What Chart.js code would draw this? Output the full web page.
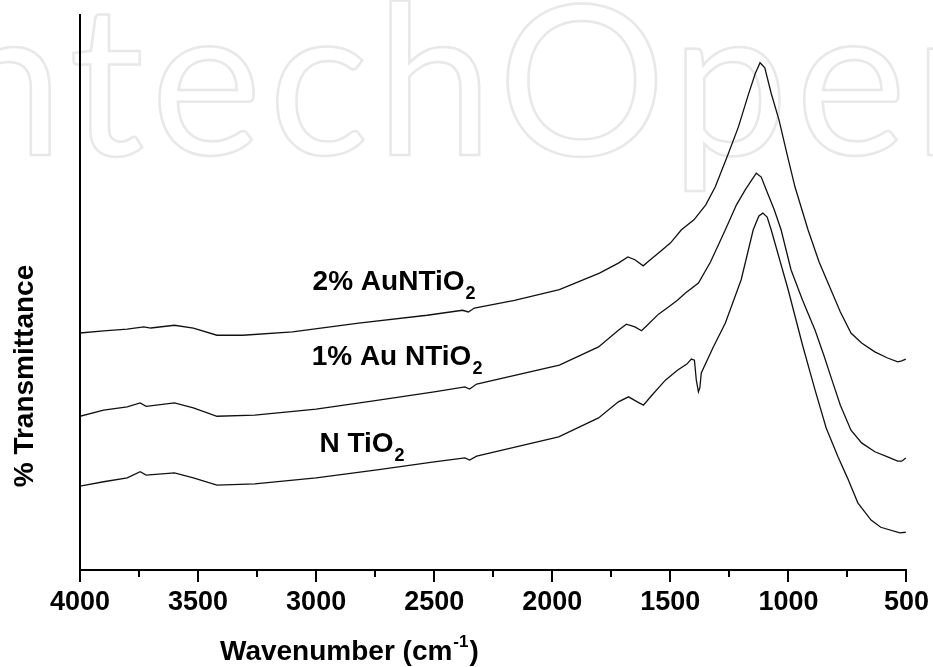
<!DOCTYPE html>
<html>
<head>
<meta charset="utf-8">
<title>FTIR N TiO2 / Au NTiO2</title>
<script src="https://cdn.jsdelivr.net/npm/chart.js@4.4.1/dist/chart.umd.min.js"></script>
<style>
  body { margin: 0; background: #fff; }
  canvas { display: block; }
</style>
</head>
<body>
<canvas id="grafico" width="933" height="667"></canvas>
<script>
// Ticks del eje X (numero de onda, cm-1)
const xTicks = [4000, 3500, 3000, 2500, 2000, 1500, 1000, 500];

// 2% AuNTiO2 (curva superior)
const wn2 = [4000, 3900, 3800, 3730, 3700, 3600, 3520, 3420, 3310, 3100, 2820, 2530, 2380, 2355, 2330, 2160, 1970, 1800, 1720, 1680, 1650, 1615, 1590, 1550, 1500, 1453, 1400, 1350, 1310, 1260, 1212, 1170, 1140, 1120, 1100, 1073, 1040, 1000, 972, 917, 870, 820, 780, 735, 690, 634, 580, 537, 520, 503];
const tr2 = [42.7, 43.1, 43.4, 43.8, 43.6, 44.1, 43.6, 42.3, 42.3, 42.9, 44.5, 45.9, 46.8, 46.5, 47.2, 48.6, 50.5, 53.5, 55.3, 56.4, 55.9, 54.8, 55.7, 57.1, 58.9, 61.3, 63.1, 65.8, 69.0, 74.4, 79.8, 85.6, 89.5, 91.4, 90.5, 85.9, 81.1, 73.9, 69.0, 61.3, 55.5, 50.5, 46.5, 42.7, 40.9, 39.3, 38.2, 37.5, 37.7, 38.0];

// 1% Au NTiO2 (curva del medio)
const wn1 = [4000, 3900, 3800, 3745, 3720, 3600, 3520, 3420, 3260, 3000, 2750, 2500, 2370, 2350, 2320, 1970, 1804, 1720, 1686, 1650, 1622, 1600, 1550, 1508, 1470, 1436, 1381, 1330, 1267, 1220, 1183, 1150, 1136, 1115, 1094, 1060, 1031, 989, 940, 887, 850, 820, 780, 735, 690, 634, 580, 537, 520, 503];
const tr1 = [27.7, 28.8, 29.4, 30.1, 29.5, 30.1, 29.2, 27.7, 27.9, 29.0, 30.5, 32.1, 33.0, 32.6, 33.5, 36.9, 40.2, 43.2, 44.3, 43.8, 43.1, 44.0, 46.1, 47.4, 48.6, 49.9, 51.7, 55.5, 61.3, 65.8, 68.5, 70.6, 71.5, 70.8, 68.5, 64.9, 61.3, 54.1, 48.6, 43.2, 38.7, 34.8, 29.7, 25.2, 22.9, 21.3, 20.4, 19.6, 19.6, 20.2];

// N TiO2 (curva inferior)
const wn0 = [4000, 3900, 3800, 3745, 3720, 3600, 3520, 3420, 3260, 3000, 2750, 2500, 2370, 2350, 2320, 1973, 1804, 1720, 1677, 1640, 1614, 1580, 1521, 1470, 1430, 1411, 1398, 1390, 1381, 1375, 1369, 1320, 1267, 1200, 1149, 1125, 1108, 1090, 1073, 1001, 940, 887, 840, 790, 750, 706, 650, 609, 528, 503];
const tr0 = [15.1, 15.9, 16.6, 17.7, 17.1, 17.5, 16.6, 15.3, 15.5, 16.6, 18.0, 19.5, 20.2, 19.8, 20.5, 24.0, 27.4, 30.3, 31.2, 30.3, 29.7, 31.4, 34.2, 36.0, 37.1, 38.0, 37.8, 34.2, 32.1, 32.8, 35.5, 40.0, 44.5, 52.3, 61.3, 63.8, 64.3, 63.6, 61.3, 50.5, 40.5, 32.4, 25.6, 20.4, 16.6, 12.1, 9.0, 7.7, 6.7, 6.8];

// Etiquetas de las curvas (texto, subindice, posicion en unidades de datos)
const etiquetas = [
    { texto: '2% AuNTiO', sub: '2', wn: 3015, t: 50.5 },
    { texto: '1% Au NTiO', sub: '2', wn: 3019, t: 36.9 },
    { texto: 'N TiO', sub: '2', wn: 2986, t: 21.3 }
];

const FUENTE = '"Liberation Sans", Arial, sans-serif';

function puntos(xs, ys) {
    let lista = [];
    for (let i = 0; i < xs.length; i++) {
        lista.push({ x: xs[i], y: ys[i] });
    }
    return lista;
}

function serie(nombre, xs, ys) {
    return {
        label: nombre,
        data: puntos(xs, ys),
        borderColor: '#111',
        borderWidth: 1.3,
        pointRadius: 0,
        tension: 0,
        fill: false
    };
}

// Marca de agua de fondo
const marcaAgua = {
    id: 'marcaAgua',
    beforeDraw(chart) {
        let ctx = chart.ctx;
        ctx.save();
        ctx.font = '400 210px Lato, sans-serif';
        ctx.letterSpacing = '7px';
        ctx.strokeStyle = '#e8e8e8';
        ctx.lineWidth = 2.5;
        ctx.textBaseline = 'alphabetic';
        ctx.strokeText('IntechOpen', -118, 155);
        ctx.restore();
    }
};

// Ticks menores, titulos de ejes y etiquetas de curvas
const extras = {
    id: 'extras',
    afterDraw(chart) {
        let ctx = chart.ctx;
        let x = chart.scales.x;
        let y = chart.scales.y;
        let abajo = chart.chartArea.bottom;
        ctx.save();
        ctx.strokeStyle = '#000';
        ctx.lineWidth = 2;
        for (let v = 3750; v > 500; v -= 500) {
            let px = Math.round(x.getPixelForValue(v));
            ctx.beginPath();
            ctx.moveTo(px, abajo);
            ctx.lineTo(px, abajo + 7);
            ctx.stroke();
        }

        ctx.fillStyle = '#000';
        ctx.textBaseline = 'alphabetic';

        // titulo eje X con superindice
        ctx.textAlign = 'left';
        ctx.font = 'bold 28px ' + FUENTE;
        let x0 = 220;
        let base = 660;
        let parte1 = 'Wavenumber (cm';
        ctx.fillText(parte1, x0, base);
        x0 += ctx.measureText(parte1).width;
        ctx.font = 'bold 17px ' + FUENTE;
        ctx.fillText('-1', x0 + 1, base - 13);
        x0 += ctx.measureText('-1').width + 2;
        ctx.font = 'bold 28px ' + FUENTE;
        ctx.fillText(')', x0, base);

        // titulo eje Y
        ctx.save();
        ctx.translate(33, 376);
        ctx.rotate(-Math.PI / 2);
        ctx.textAlign = 'center';
        ctx.font = 'bold 28px ' + FUENTE;
        ctx.fillText('% Transmittance', 0, 0);
        ctx.restore();

        // etiquetas de cada curva
        ctx.textAlign = 'left';
        for (let i = 0; i < etiquetas.length; i++) {
            let e = etiquetas[i];
            let px = x.getPixelForValue(e.wn);
            let py = y.getPixelForValue(e.t);
            ctx.font = 'bold 28px ' + FUENTE;
            ctx.fillText(e.texto, px, py);
            let w = ctx.measureText(e.texto).width;
            ctx.font = 'bold 18px ' + FUENTE;
            ctx.fillText(e.sub, px + w + 1, py + 9);
        }
        ctx.restore();
    }
};

let ctx = document.getElementById('grafico').getContext('2d');
let miGrafico = new Chart(ctx, {
    type: 'line',
    data: {
        datasets: [
            serie('2% AuNTiO2', wn2, tr2),
            serie('1% Au NTiO2', wn1, tr1),
            serie('N TiO2', wn0, tr0)
        ]
    },
    options: {
        responsive: false,
        animation: false,
        layout: { padding: { left: 80, right: 24, top: 15, bottom: 0 } },
        plugins: {
            legend: { display: false },
            tooltip: { enabled: false }
        },
        scales: {
            x: {
                type: 'linear',
                reverse: true,
                min: 500,
                max: 4000,
                afterBuildTicks: function(escala) {
                    escala.ticks = xTicks.map(function(v) { return { value: v }; });
                },
                afterFit: function(escala) { escala.height = 97; },
                ticks: {
                    color: '#000',
                    font: { family: FUENTE, size: 27, weight: 'bold' },
                    padding: 4,
                    maxRotation: 0,
                    autoSkip: false,
                    callback: function(valor) { return String(valor); }
                },
                grid: {
                    display: true,
                    drawOnChartArea: false,
                    drawTicks: true,
                    tickLength: 12,
                    color: '#000',
                    lineWidth: 2
                },
                border: { display: true, color: '#000', width: 2 }
            },
            y: {
                min: 0,
                max: 100,
                afterFit: function(escala) { escala.width = 0; },
                ticks: { display: false },
                grid: { display: false, drawTicks: false },
                border: { display: true, color: '#000', width: 2 }
            }
        }
    },
    plugins: [marcaAgua, extras]
});
</script>
</body>
</html>
